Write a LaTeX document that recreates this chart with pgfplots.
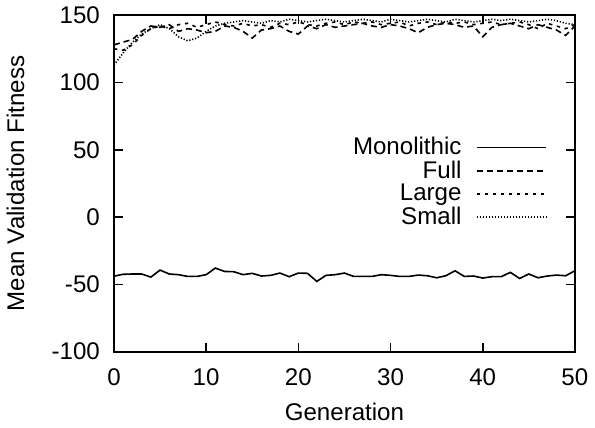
\documentclass[border=0pt]{standalone}
\usepackage{pgfplots}
\pgfplotsset{compat=1.18}
\usepackage{fontspec}
\setmainfont{Liberation Sans}

\pgfplotstableread{
g mono full large small
0 -43.9 128 125 113
1 -42.5 130 124 122
2 -42.3 132 128 130
3 -42.3 138 135 136
4 -44.6 142 140 140
5 -39.4 141 142 143
6 -42.3 143 140 140
7 -42.8 138 143 134
8 -44.1 140 144 131
9 -44.1 139 141 133
10 -42.8 137 143 138
11 -37.9 138 145 142
12 -40.4 142 143 144
13 -40.6 141 142 145
14 -42.8 138 144 146
15 -41.8 133 142 145
16 -43.8 139 143 144
17 -43.3 140 141 146
18 -41.6 142 144 145
19 -44.3 138 143 147
20 -41.6 136 145 146
21 -41.8 142 143 145
22 -47.8 140 142 146
23 -43.3 143 144 147
24 -42.8 141 145 146
25 -41.6 142 143 145
26 -44.1 143 145 146
27 -44.1 144 144 147
28 -44.1 142 145 146
29 -42.8 141 143 145
30 -43.3 143 144 147
31 -44.1 142 145 146
32 -44.1 140 142 145
33 -43.1 137 144 146
34 -43.6 141 145 147
35 -45.1 143 143 146
36 -43.6 144 145 145
37 -39.9 143 144 147
38 -44.1 141 145 146
39 -43.8 142 143 145
40 -45.3 134 144 146
41 -44.3 141 145 147
42 -44.3 143 143 146
43 -41.1 144 144 147
44 -45.6 142 145 146
45 -42.3 140 143 145
46 -45.1 143 140 146
47 -43.8 141 144 147
48 -43.1 139 142 146
49 -43.6 135 140 144
50 -39.9 142 143 143
}\data

\begin{document}
\begin{tikzpicture}
\begin{axis}[
  scale only axis,
  width=229.5pt, height=167.5pt,
  xmin=0, xmax=50, ymin=-100, ymax=150,
  xtick={0,10,...,50},
  ytick={-100,-50,0,50,100,150},
  yticklabels={-100,-50,0,50,100,150},
  tick align=inside,
  major tick length=4.5pt,
  axis line style={line width=1pt},
  every tick/.style={black, line width=0.8pt},
  /pgf/number format/assume math mode=true,
  ticklabel style={font=\fontsize{12}{14}\selectfont},
  yticklabel style={xshift=-3.5pt},
  xticklabel style={yshift=-5pt},
  label style={font=\fontsize{12}{14}\selectfont},
  xlabel={Generation},
  ylabel={Mean Validation Fitness},
  x label style={at={(axis description cs:0.5,-0.179)}, anchor=center},
  y label style={at={(axis description cs:-0.2135,0.5)}, anchor=center},
  legend plot pos=right,
  legend cell align=right,
  legend style={draw=none, fill=none, at={(0.945,0.656)}, anchor=north east,
    font=\fontsize{12}{12}\selectfont, row sep=-2.5pt, inner sep=1pt},
  legend image code/.code={\path (0cm,0cm); \draw[#1] (0.18cm,0cm) -- (1.40cm,0cm);},
]
\addplot[black, line width=0.8pt] table[x=g, y=mono] {\data};
\addlegendentry{Monolithic}
\addplot[black, line width=0.8pt, dash pattern=on 3pt off 2pt] table[x=g, y=full] {\data};
\addlegendentry{Full}
\addplot[black, line width=0.8pt, dash pattern=on 1.7pt off 2.3pt] table[x=g, y=large] {\data};
\addlegendentry{Large}
\addplot[black, line width=0.8pt, dash pattern=on 0.6pt off 0.9pt] table[x=g, y=small] {\data};
\addlegendentry{Small}
\end{axis}
\end{tikzpicture}
\end{document}
